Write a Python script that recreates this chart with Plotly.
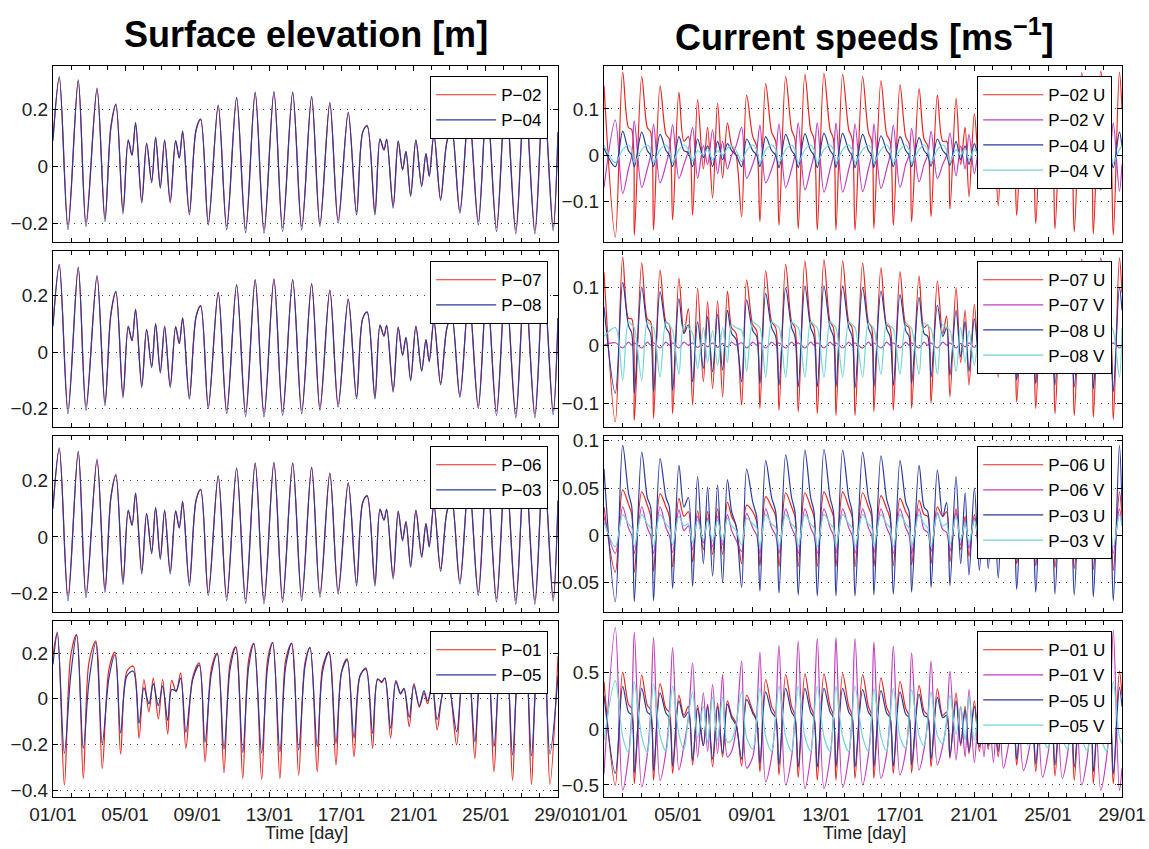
import plotly.graph_objects as go

W, H = 1149, 849
FONT = "Liberation Sans, Arial, Helvetica, sans-serif"
RED, MAG, BLUE, CYAN = "#e8251f", "#c23dbf", "#2b3a9e", "#6fd8d4"
M = "\u2212"

# ---------------- x axis (days since 01/01) ----------------
day_ticks = [0, 4, 8, 12, 16, 20, 24, 28]
day_labels = ["01/01", "05/01", "09/01", "13/01", "17/01", "21/01", "25/01", "29/01"]

# ---------------- surface elevation, key times (days) ----------------
t_elev = [
    0.00, 0.35, 0.83, 1.40, 1.83, 2.44, 2.88, 3.21, 3.49, 3.88,
    4.17, 4.38, 4.58, 4.92, 5.19, 5.47, 5.69, 5.95, 6.19, 6.50,
    6.80, 7.00, 7.19, 7.56, 7.93, 8.19, 8.61, 9.16, 9.63, 10.18,
    10.68, 11.21, 11.70, 12.25, 12.73, 13.29, 13.79, 14.34, 14.80, 15.35,
    15.81, 16.37, 16.83, 17.17, 17.42, 17.85, 18.13, 18.35, 18.50, 18.86,
    19.14, 19.38, 19.57, 19.83, 20.12, 20.44, 20.68, 20.86, 21.12, 21.49,
    21.82, 22.10, 22.56, 23.06, 23.58, 24.06, 24.59, 25.10, 25.66, 26.16,
    26.72, 27.20, 27.73, 28.00]

p02 = [
    0.10, 0.31, -0.205, 0.30, -0.195, 0.27, -0.18, 0.135, 0.215, -0.155,
    0.09, 0.04, 0.15, -0.12, 0.08, -0.05, 0.10, -0.07, 0.09, -0.12,
    0.09, 0.03, 0.12, -0.16, 0.125, 0.165, -0.195, 0.213, -0.21, 0.24,
    -0.218, 0.258, -0.22, 0.26, -0.215, 0.258, -0.21, 0.243, -0.198, 0.222,
    -0.188, 0.188, -0.16, 0.12, 0.142, -0.16, 0.095, 0.058, 0.095, -0.137,
    0.088, -0.01, 0.052, -0.098, 0.092, -0.065, 0.045, -0.032, 0.112, -0.112,
    0.08, 0.138, -0.155, 0.20, -0.193, 0.23, -0.215, 0.25, -0.222, 0.26,
    -0.222, 0.26, -0.212, 0.12]
p04 = [
    0.09, 0.316, -0.222, 0.304, -0.21, 0.275, -0.193, 0.14, 0.219, -0.166,
    0.094, 0.04, 0.155, -0.128, 0.082, -0.057, 0.103, -0.076, 0.094, -0.128,
    0.091, 0.03, 0.125, -0.17, 0.129, 0.167, -0.205, 0.216, -0.222, 0.243,
    -0.232, 0.261, -0.234, 0.263, -0.228, 0.261, -0.222, 0.246, -0.21, 0.225,
    -0.199, 0.191, -0.17, 0.12, 0.144, -0.17, 0.097, 0.058, 0.096, -0.146,
    0.09, -0.012, 0.053, -0.105, 0.094, -0.07, 0.045, -0.035, 0.115, -0.119,
    0.08, 0.14, -0.164, 0.20, -0.205, 0.23, -0.228, 0.25, -0.236, 0.26,
    -0.236, 0.26, -0.225, 0.12]
p07 = [
    0.10, 0.305, -0.20, 0.295, -0.19, 0.265, -0.178, 0.13, 0.21, -0.152,
    0.088, 0.04, 0.148, -0.118, 0.078, -0.05, 0.098, -0.068, 0.088, -0.118,
    0.088, 0.03, 0.118, -0.158, 0.122, 0.162, -0.19, 0.21, -0.205, 0.236,
    -0.212, 0.254, -0.215, 0.256, -0.21, 0.254, -0.205, 0.24, -0.194, 0.218,
    -0.184, 0.185, -0.158, 0.118, 0.14, -0.158, 0.093, 0.056, 0.093, -0.134,
    0.086, -0.01, 0.05, -0.096, 0.09, -0.064, 0.044, -0.032, 0.11, -0.11,
    0.078, 0.135, -0.152, 0.196, -0.19, 0.226, -0.21, 0.246, -0.218, 0.256,
    -0.218, 0.256, -0.208, 0.12]
p08 = [
    0.09, 0.31, -0.218, 0.30, -0.206, 0.27, -0.19, 0.136, 0.214, -0.162,
    0.092, 0.04, 0.152, -0.125, 0.08, -0.055, 0.10, -0.074, 0.092, -0.125,
    0.09, 0.03, 0.122, -0.166, 0.126, 0.164, -0.20, 0.212, -0.218, 0.238,
    -0.228, 0.256, -0.23, 0.258, -0.224, 0.256, -0.218, 0.242, -0.206, 0.22,
    -0.195, 0.188, -0.166, 0.118, 0.142, -0.166, 0.095, 0.057, 0.094, -0.142,
    0.088, -0.012, 0.052, -0.102, 0.092, -0.068, 0.044, -0.034, 0.113, -0.116,
    0.078, 0.137, -0.16, 0.197, -0.20, 0.227, -0.224, 0.247, -0.232, 0.257,
    -0.232, 0.257, -0.221, 0.12]
p06 = [
    0.11, 0.312, -0.21, 0.302, -0.20, 0.272, -0.185, 0.138, 0.218, -0.158,
    0.092, 0.042, 0.152, -0.122, 0.082, -0.052, 0.102, -0.072, 0.092, -0.122,
    0.092, 0.032, 0.122, -0.162, 0.128, 0.168, -0.198, 0.216, -0.214, 0.244,
    -0.222, 0.262, -0.224, 0.264, -0.22, 0.262, -0.214, 0.247, -0.202, 0.226,
    -0.192, 0.192, -0.163, 0.122, 0.145, -0.163, 0.097, 0.06, 0.097, -0.14,
    0.09, -0.008, 0.054, -0.10, 0.094, -0.066, 0.047, -0.03, 0.114, -0.114,
    0.082, 0.14, -0.158, 0.203, -0.197, 0.233, -0.219, 0.253, -0.226, 0.263,
    -0.226, 0.263, -0.216, 0.13]
p03 = [
    0.10, 0.318, -0.228, 0.306, -0.216, 0.278, -0.198, 0.142, 0.222, -0.17,
    0.096, 0.042, 0.157, -0.132, 0.084, -0.06, 0.105, -0.08, 0.096, -0.132,
    0.093, 0.032, 0.127, -0.175, 0.131, 0.17, -0.21, 0.219, -0.228, 0.246,
    -0.237, 0.264, -0.239, 0.266, -0.233, 0.264, -0.227, 0.249, -0.215, 0.228,
    -0.204, 0.194, -0.175, 0.122, 0.147, -0.175, 0.099, 0.06, 0.098, -0.15,
    0.092, -0.014, 0.055, -0.108, 0.096, -0.073, 0.047, -0.037, 0.117, -0.123,
    0.082, 0.142, -0.168, 0.203, -0.21, 0.233, -0.232, 0.253, -0.24, 0.263,
    -0.24, 0.263, -0.229, 0.13]

t_elev4 = [
    0.00, 0.24, 0.63, 0.98, 1.31, 1.68, 1.99, 2.37, 2.73, 3.10,
    3.44, 3.75, 4.10, 4.45, 4.77, 5.04, 5.32, 5.56, 5.84, 6.08,
    6.36, 6.58, 6.83, 7.08, 7.37, 7.75, 8.11, 8.43, 8.78, 9.11,
    9.48, 9.82, 10.14, 10.52, 10.85, 11.14, 11.57, 11.90, 12.18, 12.58,
    12.90, 13.23, 13.62, 13.97, 14.25, 14.65, 14.95, 15.30, 15.69, 16.00,
    16.31, 16.69, 17.02, 17.35, 17.72, 18.00, 18.22, 18.40, 18.72, 19.01,
    19.27, 19.46, 19.75, 20.01, 20.31, 20.57, 20.77, 21.03, 21.30, 21.64,
    21.91, 22.38, 22.70, 23.00, 23.39, 23.70, 24.05, 24.45, 24.78, 25.10,
    25.48, 25.80, 26.15, 26.53, 26.85, 27.18, 27.55, 28.00]
p01 = [
    0.19, 0.291, -0.378, 0.186, 0.281, -0.349, 0.157, 0.252, -0.305, 0.128,
    0.204, -0.242, 0.12, 0.142, -0.173, 0.084, -0.058, 0.09, -0.088, 0.084,
    -0.154, 0.08, 0.03, 0.113, -0.217, 0.094, 0.157, -0.276, 0.132, 0.20,
    -0.324, 0.157, 0.227, -0.349, 0.171, 0.242, -0.353, 0.171, 0.245, -0.349,
    0.17, 0.242, -0.334, 0.157, 0.223, -0.32, 0.14, 0.204, -0.29, 0.12,
    0.174, -0.254, 0.098, 0.135, -0.217, 0.087, 0.07, 0.09, -0.173, 0.08,
    0.025, 0.043, -0.122, 0.066, -0.037, 0.025, -0.022, 0.066, -0.136, 0.04,
    0.069, -0.202, 0.10, 0.15, -0.261, 0.13, 0.19, -0.32, 0.15, 0.22,
    -0.356, 0.16, 0.24, -0.374, 0.17, 0.25, -0.374, 0.186]
p05 = [
    0.15, 0.285, -0.239, 0.10, 0.278, -0.217, 0.07, 0.245, -0.195, 0.09,
    0.193, -0.15, 0.10, 0.12, -0.107, 0.047, -0.022, 0.066, -0.03, 0.055,
    -0.095, 0.04, 0.035, 0.09, -0.147, 0.085, 0.148, -0.19, 0.11, 0.195,
    -0.22, 0.13, 0.225, -0.235, 0.14, 0.24, -0.237, 0.14, 0.245, -0.232,
    0.14, 0.242, -0.224, 0.14, 0.225, -0.21, 0.12, 0.205, -0.195, 0.115,
    0.17, -0.173, 0.10, 0.13, -0.151, 0.085, 0.075, 0.09, -0.129, 0.075,
    0.02, 0.045, -0.081, 0.06, -0.03, 0.035, -0.01, 0.055, -0.092, 0.03,
    0.06, -0.144, 0.09, 0.15, -0.188, 0.11, 0.19, -0.21, 0.13, 0.22,
    -0.246, 0.14, 0.24, -0.25, 0.14, 0.25, -0.242, 0.10]

# ---------------- currents, key times (days) ----------------
t_curr = [
    0.00,
    0.61, 1.01, 1.32, 1.50, 1.64, 2.04, 2.34, 2.52,
    2.68, 3.03, 3.35, 3.53, 3.71, 4.05, 4.32, 4.56,
    4.79, 5.06, 5.37, 5.60, 5.87, 6.14, 6.41, 6.67,
    6.90, 7.14, 7.44, 7.71, 8.04, 8.25, 8.43, 8.74,
    9.06, 9.28, 9.46, 9.82, 10.14, 10.32, 10.50, 10.86,
    11.17, 11.35, 11.53, 11.89, 12.22, 12.40, 12.54, 12.90,
    13.23, 13.41, 13.57, 13.98, 14.29, 14.47, 14.59, 14.97,
    15.28, 15.46, 15.64, 16.00, 16.31, 16.49, 16.63, 17.03,
    17.30, 17.50, 17.68, 18.02, 18.31, 18.52, 18.70, 19.03,
    19.28, 19.52, 19.73, 20.02, 20.29, 20.54, 20.77, 21.05,
    21.31, 21.59, 21.91, 22.13, 22.31, 22.67, 22.98, 23.15,
    23.34, 23.70, 24.02, 24.20, 24.38, 24.77, 25.06, 25.24,
    25.42, 25.82, 26.13, 26.31, 26.45, 26.85, 27.17, 27.35,
    27.53, 27.86, 28.00]

u02 = [
    0.15,
    -0.177, 0.180, 0.060, 0.055, -0.173, 0.170, 0.060, 0.050,
    -0.162, 0.150, 0.045, 0.035, -0.140, 0.136, 0.030, 0.040,
    -0.130, 0.120, -0.030, 0.060, -0.093, 0.112, -0.050, 0.070,
    0.020, 0.000, -0.133, 0.130, 0.040, 0.020, -0.144, 0.155,
    0.050, 0.030, -0.152, 0.170, 0.055, 0.035, -0.159, 0.175,
    0.055, 0.035, -0.162, 0.177, 0.055, 0.035, -0.162, 0.175,
    0.055, 0.035, -0.162, 0.170, 0.050, 0.030, -0.159, 0.161,
    0.045, 0.030, -0.152, 0.152, 0.040, 0.025, -0.144, 0.144,
    0.035, 0.020, -0.133, 0.130, 0.030, 0.030, -0.116, 0.123,
    -0.020, 0.060, -0.090, 0.090, -0.030, 0.050, -0.060, 0.080,
    -0.110, 0.100, 0.040, 0.020, -0.130, 0.140, 0.045, 0.030,
    -0.148, 0.155, 0.050, 0.035, -0.159, 0.170, 0.055, 0.035,
    -0.166, 0.178, 0.055, 0.035, -0.170, 0.182, 0.055, 0.035,
    -0.173, 0.180, 0.100]
v02 = [
    -0.07,
    0.076, -0.083, -0.030, 0.000, 0.074, -0.070, -0.030, 0.000,
    0.067, -0.060, -0.020, 0.010, 0.066, -0.050, -0.020, 0.010,
    0.060, -0.050, 0.020, -0.020, 0.055, -0.040, 0.030, -0.030,
    0.000, 0.020, 0.060, -0.050, -0.020, 0.010, 0.065, -0.060,
    -0.030, 0.000, 0.068, -0.070, -0.030, 0.000, 0.070, -0.075,
    -0.030, 0.000, 0.070, -0.080, -0.030, 0.000, 0.070, -0.080,
    -0.030, 0.000, 0.068, -0.079, -0.030, 0.000, 0.068, -0.072,
    -0.030, 0.000, 0.065, -0.070, -0.020, 0.000, 0.058, -0.058,
    -0.020, 0.000, 0.052, -0.051, -0.020, 0.000, 0.048, -0.045,
    0.020, -0.030, 0.045, -0.040, 0.020, -0.030, 0.045, -0.035,
    0.050, -0.040, -0.010, 0.010, 0.055, -0.050, -0.020, 0.000,
    0.060, -0.060, -0.025, 0.000, 0.065, -0.065, -0.030, 0.000,
    0.068, -0.070, -0.030, 0.000, 0.070, -0.075, -0.030, 0.000,
    0.070, -0.078, -0.020]
u04 = [
    0.015,
    -0.025, 0.052, 0.010, 0.000, -0.025, 0.050, 0.010, 0.000,
    -0.025, 0.045, 0.010, 0.000, -0.025, 0.040, 0.010, 0.005,
    -0.025, 0.035, -0.005, 0.020, -0.025, 0.030, -0.010, 0.025,
    0.010, 0.000, -0.025, 0.035, 0.010, 0.000, -0.025, 0.040,
    0.010, 0.000, -0.027, 0.045, 0.010, 0.000, -0.027, 0.046,
    0.010, 0.000, -0.027, 0.047, 0.010, 0.000, -0.027, 0.047,
    0.010, 0.000, -0.027, 0.045, 0.010, 0.000, -0.027, 0.042,
    0.010, 0.000, -0.025, 0.040, 0.010, 0.000, -0.025, 0.038,
    0.010, 0.000, -0.024, 0.035, 0.010, 0.000, -0.022, 0.030,
    -0.010, 0.020, -0.020, 0.025, -0.010, 0.020, -0.020, 0.025,
    -0.015, 0.030, 0.005, 0.000, -0.022, 0.035, 0.010, 0.000,
    -0.024, 0.040, 0.010, 0.000, -0.025, 0.045, 0.010, 0.000,
    -0.026, 0.048, 0.010, 0.000, -0.027, 0.050, 0.010, 0.000,
    -0.027, 0.050, 0.020]
v04 = [
    0.022,
    -0.016, 0.012, 0.022, 0.012, -0.016, 0.012, 0.022, 0.012,
    -0.016, 0.012, 0.022, 0.012, -0.016, 0.012, 0.022, 0.012,
    -0.012, 0.010, 0.000, 0.015, -0.010, 0.010, 0.000, 0.015,
    0.020, 0.010, -0.014, 0.010, 0.022, 0.012, -0.016, 0.012,
    0.022, 0.012, -0.016, 0.012, 0.022, 0.012, -0.016, 0.012,
    0.022, 0.012, -0.016, 0.012, 0.022, 0.012, -0.016, 0.012,
    0.022, 0.012, -0.016, 0.012, 0.022, 0.012, -0.016, 0.012,
    0.022, 0.012, -0.016, 0.012, 0.022, 0.012, -0.016, 0.012,
    0.022, 0.012, -0.016, 0.012, 0.022, 0.012, -0.016, 0.012,
    0.000, 0.015, -0.010, 0.012, 0.000, 0.015, -0.010, 0.012,
    -0.010, 0.012, 0.020, 0.010, -0.016, 0.012, 0.022, 0.012,
    -0.016, 0.012, 0.022, 0.012, -0.016, 0.012, 0.022, 0.012,
    -0.016, 0.012, 0.022, 0.012, -0.016, 0.012, 0.022, 0.012,
    -0.016, 0.012, 0.020]

u07 = [
    0.125,
    -0.132, 0.151, 0.046, 0.045, -0.129, 0.141, 0.045, 0.040,
    -0.126, 0.129, 0.040, 0.035, -0.118, 0.115, 0.020, 0.063,
    -0.103, 0.098, -0.063, 0.075, -0.075, 0.076, -0.089, 0.093,
    0.030, 0.020, -0.103, 0.112, 0.035, 0.025, -0.109, 0.128,
    0.040, 0.030, -0.112, 0.139, 0.040, 0.030, -0.115, 0.145,
    0.040, 0.030, -0.118, 0.147, 0.040, 0.030, -0.121, 0.145,
    0.040, 0.030, -0.121, 0.141, 0.040, 0.030, -0.115, 0.133,
    0.035, 0.030, -0.112, 0.126, 0.035, 0.030, -0.109, 0.119,
    0.030, 0.035, -0.100, 0.110, 0.020, 0.050, -0.089, 0.099,
    -0.030, 0.060, -0.069, 0.070, -0.045, 0.050, -0.032, 0.060,
    -0.055, 0.070, 0.030, 0.020, -0.098, 0.115, 0.035, 0.025,
    -0.109, 0.130, 0.040, 0.030, -0.118, 0.140, 0.040, 0.030,
    -0.121, 0.148, 0.040, 0.030, -0.124, 0.150, 0.040, 0.030,
    -0.128, 0.150, 0.090]
v07 = [
    0.000,
    0.004, -0.005, 0.005, 0.000, 0.004, -0.005, 0.005, 0.000,
    0.004, -0.005, 0.005, 0.000, 0.004, -0.005, 0.005, 0.000,
    0.004, -0.004, 0.003, -0.003, 0.004, -0.004, 0.003, -0.003,
    0.005, 0.000, 0.004, -0.005, 0.005, 0.000, 0.004, -0.005,
    0.005, 0.000, 0.004, -0.005, 0.005, 0.000, 0.004, -0.005,
    0.005, 0.000, 0.004, -0.005, 0.005, 0.000, 0.004, -0.005,
    0.005, 0.000, 0.004, -0.005, 0.005, 0.000, 0.004, -0.005,
    0.005, 0.000, 0.004, -0.005, 0.005, 0.000, 0.004, -0.005,
    0.005, 0.000, 0.004, -0.005, 0.005, 0.000, 0.004, -0.005,
    0.003, -0.003, 0.004, -0.004, 0.003, -0.003, 0.004, -0.004,
    0.003, -0.004, 0.005, 0.000, 0.004, -0.005, 0.005, 0.000,
    0.004, -0.005, 0.005, 0.000, 0.004, -0.005, 0.005, 0.000,
    0.004, -0.005, 0.005, 0.000, 0.004, -0.005, 0.005, 0.000,
    0.004, -0.005, 0.002]
u08 = [
    0.066,
    -0.083, 0.108, 0.034, 0.020, -0.083, 0.100, 0.033, 0.020,
    -0.080, 0.092, 0.030, 0.020, -0.078, 0.080, 0.020, 0.035,
    -0.063, 0.040, -0.040, 0.049, -0.046, 0.053, -0.043, 0.060,
    0.020, 0.010, -0.063, 0.078, 0.025, 0.015, -0.066, 0.089,
    0.030, 0.015, -0.069, 0.098, 0.030, 0.015, -0.072, 0.102,
    0.030, 0.015, -0.072, 0.102, 0.030, 0.015, -0.072, 0.102,
    0.030, 0.015, -0.074, 0.099, 0.030, 0.015, -0.072, 0.093,
    0.028, 0.015, -0.069, 0.087, 0.025, 0.015, -0.066, 0.082,
    0.020, 0.015, -0.055, 0.069, 0.015, 0.030, -0.052, 0.060,
    -0.020, 0.040, -0.045, 0.045, -0.030, 0.035, -0.030, 0.040,
    -0.040, 0.050, 0.020, 0.010, -0.060, 0.075, 0.025, 0.015,
    -0.066, 0.085, 0.030, 0.015, -0.069, 0.095, 0.030, 0.015,
    -0.072, 0.100, 0.030, 0.015, -0.075, 0.100, 0.030, 0.015,
    -0.080, 0.100, 0.060]
v08 = [
    0.015,
    0.030, -0.060, 0.040, 0.035, 0.030, -0.060, 0.040, 0.035,
    0.030, -0.055, 0.040, 0.035, 0.025, -0.050, 0.035, 0.030,
    0.020, -0.040, 0.030, -0.030, 0.025, -0.035, 0.030, -0.030,
    0.035, 0.030, 0.025, -0.045, 0.040, 0.035, 0.030, -0.055,
    0.040, 0.035, 0.030, -0.055, 0.040, 0.035, 0.030, -0.055,
    0.040, 0.035, 0.030, -0.055, 0.040, 0.035, 0.030, -0.055,
    0.040, 0.035, 0.030, -0.055, 0.038, 0.033, 0.028, -0.050,
    0.038, 0.033, 0.028, -0.050, 0.038, 0.033, 0.028, -0.050,
    0.038, 0.033, 0.028, -0.050, 0.035, 0.030, 0.025, -0.045,
    0.030, -0.030, 0.025, -0.035, 0.030, -0.030, 0.025, -0.035,
    0.030, -0.035, 0.035, 0.030, 0.025, -0.050, 0.040, 0.035,
    0.025, -0.050, 0.040, 0.035, 0.025, -0.050, 0.040, 0.035,
    0.025, -0.050, 0.040, 0.035, 0.025, -0.050, 0.040, 0.035,
    0.025, -0.055, 0.030]

u06 = [
    0.030,
    -0.039, 0.048, 0.033, 0.022, -0.039, 0.046, 0.032, 0.020,
    -0.038, 0.044, 0.030, 0.020, -0.033, 0.039, 0.020, 0.025,
    -0.028, 0.026, -0.015, 0.025, -0.020, 0.028, -0.020, 0.035,
    0.020, 0.010, -0.030, 0.032, 0.025, 0.015, -0.032, 0.041,
    0.030, 0.020, -0.033, 0.045, 0.030, 0.020, -0.033, 0.045,
    0.030, 0.020, -0.033, 0.046, 0.030, 0.020, -0.033, 0.046,
    0.030, 0.020, -0.033, 0.045, 0.030, 0.020, -0.033, 0.042,
    0.028, 0.018, -0.032, 0.039, 0.025, 0.018, -0.031, 0.037,
    0.022, 0.020, -0.030, 0.030, 0.020, 0.025, -0.028, 0.028,
    -0.015, 0.020, -0.022, 0.022, -0.015, 0.018, -0.015, 0.020,
    -0.020, 0.025, 0.015, 0.010, -0.030, 0.035, 0.022, 0.015,
    -0.032, 0.040, 0.025, 0.015, -0.034, 0.043, 0.028, 0.018,
    -0.035, 0.045, 0.030, 0.020, -0.036, 0.046, 0.030, 0.020,
    -0.037, 0.046, 0.020]
v06 = [
    0.020,
    -0.019, 0.030, 0.008, 0.000, -0.019, 0.030, 0.008, 0.000,
    -0.019, 0.030, 0.008, 0.000, -0.018, 0.027, 0.005, 0.010,
    -0.015, 0.020, -0.008, 0.018, -0.012, 0.020, -0.010, 0.022,
    0.005, -0.005, -0.017, 0.023, 0.008, 0.000, -0.019, 0.028,
    0.008, 0.000, -0.019, 0.028, 0.008, 0.000, -0.019, 0.028,
    0.008, 0.000, -0.019, 0.028, 0.008, 0.000, -0.019, 0.028,
    0.008, 0.000, -0.019, 0.028, 0.008, 0.000, -0.019, 0.028,
    0.008, 0.000, -0.019, 0.028, 0.008, 0.000, -0.019, 0.028,
    0.006, 0.003, -0.017, 0.024, 0.006, 0.003, -0.017, 0.024,
    -0.010, 0.015, -0.014, 0.018, -0.010, 0.014, -0.010, 0.016,
    -0.012, 0.018, 0.005, 0.000, -0.018, 0.026, 0.008, 0.000,
    -0.018, 0.026, 0.008, 0.000, -0.018, 0.026, 0.008, 0.000,
    -0.018, 0.026, 0.008, 0.000, -0.018, 0.026, 0.008, 0.000,
    -0.019, 0.028, 0.010]
u03 = [
    0.070,
    -0.070, 0.095, 0.045, 0.030, -0.070, 0.088, 0.040, 0.030,
    -0.069, 0.081, 0.040, 0.030, -0.056, 0.074, 0.030, 0.040,
    -0.054, 0.062, -0.030, 0.051, -0.043, 0.053, -0.050, 0.059,
    0.025, 0.010, -0.055, 0.070, 0.035, 0.020, -0.059, 0.079,
    0.040, 0.025, -0.061, 0.085, 0.040, 0.025, -0.063, 0.090,
    0.040, 0.025, -0.064, 0.091, 0.040, 0.025, -0.064, 0.090,
    0.040, 0.025, -0.064, 0.088, 0.040, 0.025, -0.063, 0.084,
    0.038, 0.025, -0.062, 0.079, 0.035, 0.025, -0.060, 0.074,
    0.030, 0.025, -0.055, 0.069, 0.020, 0.035, -0.053, 0.062,
    -0.030, 0.045, -0.042, 0.050, -0.037, 0.040, -0.035, 0.045,
    -0.045, 0.050, 0.025, 0.015, -0.057, 0.070, 0.030, 0.020,
    -0.060, 0.078, 0.035, 0.022, -0.062, 0.085, 0.040, 0.025,
    -0.063, 0.090, 0.040, 0.025, -0.065, 0.093, 0.040, 0.025,
    -0.069, 0.095, 0.030]
v03 = [
    0.014,
    -0.012, 0.022, 0.012, 0.008, -0.012, 0.022, 0.012, 0.008,
    -0.012, 0.022, 0.012, 0.008, -0.010, 0.020, 0.010, 0.012,
    -0.008, 0.016, -0.005, 0.016, -0.006, 0.016, -0.006, 0.018,
    0.010, 0.005, -0.010, 0.018, 0.012, 0.008, -0.012, 0.022,
    0.012, 0.008, -0.012, 0.022, 0.012, 0.008, -0.012, 0.022,
    0.012, 0.008, -0.012, 0.022, 0.012, 0.008, -0.012, 0.022,
    0.012, 0.008, -0.012, 0.022, 0.012, 0.008, -0.012, 0.022,
    0.012, 0.008, -0.012, 0.022, 0.012, 0.008, -0.012, 0.022,
    0.012, 0.008, -0.012, 0.022, 0.010, 0.012, -0.010, 0.020,
    -0.005, 0.014, -0.008, 0.016, -0.005, 0.013, -0.006, 0.014,
    -0.006, 0.016, 0.010, 0.006, -0.012, 0.022, 0.012, 0.008,
    -0.012, 0.022, 0.012, 0.008, -0.012, 0.022, 0.012, 0.008,
    -0.012, 0.022, 0.012, 0.008, -0.012, 0.022, 0.012, 0.008,
    -0.012, 0.022, 0.010]

u01 = [
    0.42,
    -0.502, 0.505, 0.220, 0.180, -0.487, 0.478, 0.210, 0.170,
    -0.457, 0.403, 0.180, 0.150, -0.397, 0.298, 0.120, 0.200,
    -0.323, 0.209, -0.150, 0.220, -0.338, 0.230, -0.250, 0.250,
    0.120, 0.050, -0.330, 0.300, 0.160, 0.080, -0.382, 0.440,
    0.200, 0.120, -0.410, 0.484, 0.200, 0.120, -0.433, 0.490,
    0.200, 0.120, -0.457, 0.490, 0.200, 0.120, -0.457, 0.490,
    0.200, 0.120, -0.440, 0.484, 0.200, 0.120, -0.440, 0.454,
    0.190, 0.120, -0.397, 0.424, 0.180, 0.120, -0.390, 0.385,
    0.160, 0.120, -0.338, 0.356, 0.120, 0.150, -0.263, 0.320,
    -0.150, 0.200, -0.220, 0.250, -0.200, 0.180, -0.180, 0.200,
    -0.250, 0.250, 0.100, 0.050, -0.323, 0.350, 0.150, 0.080,
    -0.380, 0.400, 0.180, 0.100, -0.420, 0.450, 0.200, 0.120,
    -0.457, 0.480, 0.200, 0.120, -0.487, 0.500, 0.200, 0.120,
    -0.487, 0.514, 0.300]
v01 = [
    -0.40,
    0.902, -0.547, -0.250, 0.150, 0.863, -0.517, -0.230, 0.140,
    0.813, -0.460, -0.200, 0.120, 0.723, -0.367, -0.150, 0.100,
    0.589, -0.250, 0.320, -0.200, 0.394, -0.220, 0.484, -0.250,
    -0.200, 0.000, 0.603, -0.350, -0.250, 0.100, 0.684, -0.470,
    -0.250, 0.120, 0.744, -0.500, -0.250, 0.120, 0.782, -0.532,
    -0.250, 0.120, 0.806, -0.532, -0.250, 0.120, 0.813, -0.520,
    -0.250, 0.120, 0.804, -0.500, -0.230, 0.120, 0.773, -0.440,
    -0.220, 0.100, 0.738, -0.410, -0.200, 0.100, 0.678, -0.367,
    -0.180, 0.080, 0.603, -0.320, -0.150, 0.060, 0.514, -0.278,
    0.200, -0.250, 0.350, -0.300, 0.250, -0.250, 0.300, -0.300,
    0.400, -0.350, -0.100, 0.100, 0.500, -0.370, -0.180, 0.100,
    0.600, -0.430, -0.200, 0.120, 0.700, -0.440, -0.220, 0.120,
    0.780, -0.500, -0.240, 0.120, 0.840, -0.547, -0.250, 0.140,
    0.880, -0.550, -0.350]
u05 = [
    0.30,
    -0.397, 0.379, 0.150, 0.120, -0.390, 0.360, 0.150, 0.120,
    -0.370, 0.320, 0.140, 0.100, -0.330, 0.250, 0.100, 0.150,
    -0.280, 0.180, -0.150, 0.200, -0.270, 0.200, -0.220, 0.220,
    0.100, 0.030, -0.270, 0.260, 0.140, 0.070, -0.310, 0.330,
    0.150, 0.100, -0.320, 0.360, 0.150, 0.100, -0.340, 0.360,
    0.150, 0.100, -0.340, 0.360, 0.150, 0.100, -0.340, 0.360,
    0.150, 0.100, -0.340, 0.350, 0.150, 0.100, -0.340, 0.340,
    0.140, 0.100, -0.330, 0.330, 0.130, 0.100, -0.320, 0.310,
    0.120, 0.100, -0.270, 0.280, 0.100, 0.120, -0.240, 0.250,
    -0.130, 0.170, -0.200, 0.200, -0.160, 0.150, -0.150, 0.170,
    -0.200, 0.200, 0.080, 0.040, -0.270, 0.280, 0.120, 0.070,
    -0.310, 0.320, 0.140, 0.080, -0.320, 0.340, 0.150, 0.100,
    -0.340, 0.360, 0.150, 0.100, -0.380, 0.370, 0.150, 0.100,
    -0.400, 0.370, 0.200]
v05 = [
    -0.10,
    0.430, -0.070, -0.210, 0.100, 0.420, -0.070, -0.210, 0.100,
    0.400, -0.060, -0.200, 0.100, 0.380, -0.050, -0.180, 0.100,
    0.330, -0.080, 0.200, -0.120, 0.280, -0.100, 0.280, -0.120,
    -0.100, 0.050, 0.330, -0.080, -0.180, 0.080, 0.360, -0.070,
    -0.200, 0.100, 0.380, -0.070, -0.200, 0.100, 0.380, -0.070,
    -0.200, 0.100, 0.380, -0.070, -0.200, 0.100, 0.380, -0.070,
    -0.200, 0.100, 0.380, -0.070, -0.200, 0.100, 0.360, -0.070,
    -0.200, 0.100, 0.360, -0.070, -0.170, 0.100, 0.350, -0.060,
    -0.150, 0.080, 0.330, -0.060, -0.130, 0.080, 0.300, -0.050,
    0.200, -0.100, 0.280, -0.100, 0.220, -0.100, 0.270, -0.100,
    0.300, -0.080, -0.120, 0.080, 0.330, -0.070, -0.150, 0.080,
    0.360, -0.070, -0.170, 0.100, 0.380, -0.070, -0.180, 0.100,
    0.400, -0.070, -0.200, 0.100, 0.420, -0.070, -0.200, 0.100,
    0.420, -0.070, -0.130]

# ---------------- panels ----------------
panels = [
    # (col, row, times, [(legend label, values, colour)], y range, y ticks)
    (0, 0, t_elev, [("P-02", p02, RED), ("P-04", p04, BLUE)], [-0.265, 0.353], [-0.2, 0, 0.2]),
    (1, 0, t_curr, [("P-02 U", u02, RED), ("P-02 V", v02, MAG), ("P-04 U", u04, BLUE), ("P-04 V", v04, CYAN)], [-0.188, 0.193], [-0.1, 0, 0.1]),
    (0, 1, t_elev, [("P-07", p07, RED), ("P-08", p08, BLUE)], [-0.265, 0.357], [-0.2, 0, 0.2]),
    (1, 1, t_curr, [("P-07 U", u07, RED), ("P-07 V", v07, MAG), ("P-08 U", u08, BLUE), ("P-08 V", v08, CYAN)], [-0.141, 0.162], [-0.1, 0, 0.1]),
    (0, 2, t_elev, [("P-06", p06, RED), ("P-03", p03, BLUE)], [-0.268, 0.360], [-0.2, 0, 0.2]),
    (1, 2, t_curr, [("P-06 U", u06, RED), ("P-06 V", v06, MAG), ("P-03 U", u03, BLUE), ("P-03 V", v03, CYAN)], [-0.081, 0.105], [-0.05, 0, 0.05, 0.1]),
    (0, 3, t_elev4, [("P-01", p01, RED), ("P-05", p05, BLUE)], [-0.43, 0.34], [-0.4, -0.2, 0, 0.2]),
    (1, 3, t_curr, [("P-01 U", u01, RED), ("P-01 V", v01, MAG), ("P-05 U", u05, BLUE), ("P-05 V", v05, CYAN)], [-0.607, 0.961], [-0.5, 0, 0.5]),
]

col_px = [(53, 558), (604, 1122)]
row_px = [(66, 242), (251, 427), (436, 612), (621, 797)]


def fmt(v):
    s = ("%g" % v)
    return s.replace("-", M)


fig = go.Figure()
layout = dict(
    width=W, height=H, autosize=False,
    margin=dict(l=0, r=0, t=0, b=0),
    paper_bgcolor="white", plot_bgcolor="white",
    font=dict(family=FONT, size=17, color="black"),
    showlegend=True, hovermode=False,
)

for i, (col, row, t, series, yr, yt) in enumerate(panels, start=1):
    xa = "x" if i == 1 else "x%d" % i
    ya = "y" if i == 1 else "y%d" % i
    lg = "legend" if i == 1 else "legend%d" % i
    for name, vals, color in series:
        assert len(vals) == len(t), (name, len(vals), len(t))
        fig.add_trace(go.Scatter(
            x=t, y=vals, mode="lines", name=name.replace("-", M),
            line=dict(color=color, width=1.2, shape="spline", smoothing=0.9),
            xaxis=xa, yaxis=ya, legend=lg, showlegend=True))
    x0, x1 = col_px[col]
    y0, y1 = row_px[row]
    xkey = "xaxis" if i == 1 else "xaxis%d" % i
    ykey = "yaxis" if i == 1 else "yaxis%d" % i
    layout[xkey] = dict(
        domain=[x0 / W, x1 / W], anchor=ya, range=[0, 28],
        tickmode="array", tickvals=day_ticks, ticktext=day_labels,
        showticklabels=(row == 3), ticks="inside", ticklen=5, tickcolor="black",
        minor=dict(dtick=1, ticks="inside", ticklen=4, tickcolor="black", showgrid=False),
        showline=True, linecolor="black", linewidth=1.3, mirror="ticks",
        showgrid=False, zeroline=False, automargin=False,
        tickfont=dict(family=FONT, size=19, color="#222"),
    )
    layout[ykey] = dict(
        domain=[1 - y1 / H, 1 - y0 / H], anchor=xa, range=yr,
        tickmode="array", tickvals=yt, ticktext=[fmt(v) for v in yt],
        ticks="inside", ticklen=5, tickcolor="black",
        showline=True, linecolor="black", linewidth=1.3, mirror="ticks",
        showgrid=True, gridcolor="#444", gridwidth=1, griddash="1px,6px",
        zeroline=False, automargin=False,
        tickfont=dict(family=FONT, size=19, color="#222"),
    )
    right_px = 548 if col == 0 else 1112
    layout[lg] = dict(
        x=right_px / W, y=1 - (y0 + 10) / H, xanchor="right", yanchor="top",
        bgcolor="white", bordercolor="black", borderwidth=1.2,
        font=dict(family=FONT, size=17, color="black"),
        itemwidth=60, tracegroupgap=0, itemclick=False,
    )

layout["annotations"] = [
    dict(text="<b>Surface elevation [m]</b>", x=306 / W, y=1 - 35 / H, xref="paper", yref="paper",
         showarrow=False, xanchor="center", yanchor="middle", font=dict(family=FONT, size=36, color="black")),
    dict(text="<b>Current speeds [ms<sup>" + M + "1</sup>]</b>", x=864 / W, y=1 - 35 / H, xref="paper", yref="paper",
         showarrow=False, xanchor="center", yanchor="middle", font=dict(family=FONT, size=36, color="black")),
    dict(text="Time [day]", x=306 / W, y=1 - 833 / H, xref="paper", yref="paper",
         showarrow=False, xanchor="center", yanchor="middle", font=dict(family=FONT, size=18, color="#222")),
    dict(text="Time [day]", x=864 / W, y=1 - 833 / H, xref="paper", yref="paper",
         showarrow=False, xanchor="center", yanchor="middle", font=dict(family=FONT, size=18, color="#222")),
]

fig.update_layout(**layout)
fig.write_html("out.html")
